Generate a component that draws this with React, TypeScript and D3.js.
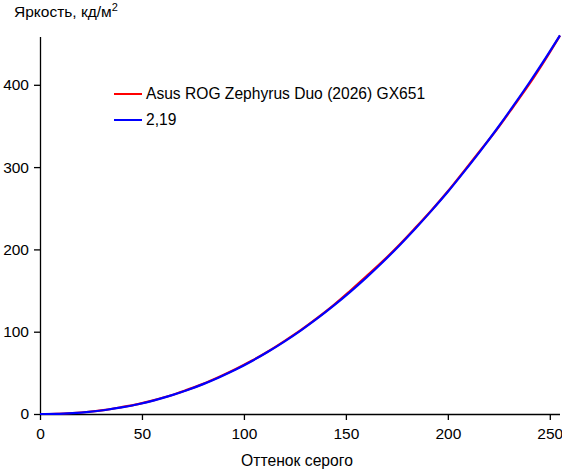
import React, { useEffect, useRef } from "react";
import * as d3 from "d3";

// gray levels (0..255) and brightness in cd/m2
const grayLevels = [
  0, 8, 16, 24, 32, 40, 48, 56, 64, 72, 80, 88, 96, 104, 112, 120, 128, 136,
  144, 152, 160, 168, 176, 184, 192, 200, 208, 216, 224, 232, 240, 248, 255,
];
const measured = [
  0, 0.3, 1.2, 2.7, 5.0, 8.3, 12.0, 16.9, 22.5, 29.3, 36.6, 45.2, 54.6, 64.9,
  76.3, 88.9, 102.2, 116.8, 132.4, 149.5, 167.2, 185.4, 205.0, 226.0, 247.6,
  270.6, 295.4, 320.5, 345.6, 373.0, 401.0, 431.5, 459.8,
];
const gammaFit = [
  0, 0.2, 1.1, 2.6, 4.9, 8.0, 11.9, 16.6, 22.3, 28.8, 36.3, 44.8, 54.1, 64.5,
  75.9, 88.3, 101.7, 116.1, 131.6, 148.1, 165.7, 184.4, 204.2, 225.1, 247.1,
  270.0, 294.5, 319.8, 346.3, 374.0, 402.8, 432.7, 460.0,
];
const seriesNames = ["Asus ROG Zephyrus Duo (2026) GX651", "2,19"];
const seriesColors = ["#ff0000", "#0000ff"];
const xTicks = [0, 50, 100, 150, 200, 250];
const yTicks = [0, 100, 200, 300, 400];

export default function App() {
  const svgRef = useRef<SVGSVGElement>(null);

  useEffect(() => {
    const width = 562;
    const height = 469;
    const left = 40;
    const right = 560;
    const top = 37;
    const bottom = 414;
    const font = "Arial, 'Liberation Sans', sans-serif";

    const svg = d3.select(svgRef.current);
    svg.selectAll("*").remove();
    svg.attr("width", width).attr("height", height);

    const x = d3.scaleLinear().domain([0, 255]).range([left, right]);
    const y = d3
      .scaleLinear()
      .domain([0, 100])
      .range([bottom, bottom - 82.3]);

    // axes
    const xAxis = svg
      .append("g")
      .attr("transform", `translate(0,${bottom})`)
      .call(
        d3
          .axisBottom(x)
          .tickValues(xTicks)
          .tickSize(6)
          .tickPadding(6)
          .tickSizeOuter(0)
      );
    const yAxis = svg
      .append("g")
      .attr("transform", `translate(${left},0)`)
      .call(
        d3
          .axisLeft(y)
          .tickValues(yTicks)
          .tickSize(6)
          .tickPadding(5)
          .tickSizeOuter(0)
      );
    yAxis.select(".domain").attr("d", `M0.5,${top}V${bottom}`);
    xAxis.select(".domain").attr("d", `M${left},0.5H${right}`);

    [xAxis, yAxis].forEach((g) => {
      g.selectAll("path,line").attr("stroke", "#000").attr("stroke-width", 1.3);
      g.selectAll("text")
        .attr("fill", "#000")
        .style("font-family", font)
        .style("font-size", "15.5px");
    });
    xAxis.selectAll("text").attr("dy", "0.85em");

    // lines
    const line = d3
      .line<number>()
      .x((_, i) => x(grayLevels[i]))
      .y((d) => y(d))
      .curve(d3.curveMonotoneX);

    [measured, gammaFit].forEach((vals, i) => {
      svg
        .append("path")
        .datum(vals)
        .attr("d", line)
        .attr("fill", "none")
        .attr("stroke", seriesColors[i])
        .attr("stroke-width", 2.2);
    });

    // legend
    seriesNames.forEach((name, i) => {
      const ly = 94 + i * 26;
      svg
        .append("line")
        .attr("x1", 114)
        .attr("x2", 142)
        .attr("y1", ly)
        .attr("y2", ly)
        .attr("stroke", seriesColors[i])
        .attr("stroke-width", 2);
      svg
        .append("text")
        .attr("x", 146)
        .attr("y", ly + 5)
        .style("font-family", font)
        .style("font-size", "15.6px")
        .text(name);
    });

    // titles
    const title = svg
      .append("text")
      .attr("x", 14)
      .attr("y", 17)
      .style("font-family", font)
      .style("font-size", "15.5px")
      .text("Яркость, кд/м");
    title
      .append("tspan")
      .attr("dy", -6)
      .style("font-size", "11px")
      .text("2");

    svg
      .append("text")
      .attr("x", 297)
      .attr("y", 466)
      .attr("text-anchor", "middle")
      .style("font-family", font)
      .style("font-size", "15.7px")
      .text("Оттенок серого");
  }, []);

  return (
    <svg
      ref={svgRef}
      style={{ position: "absolute", left: 0, top: 0, background: "#fff" }}
    ></svg>
  );
}
